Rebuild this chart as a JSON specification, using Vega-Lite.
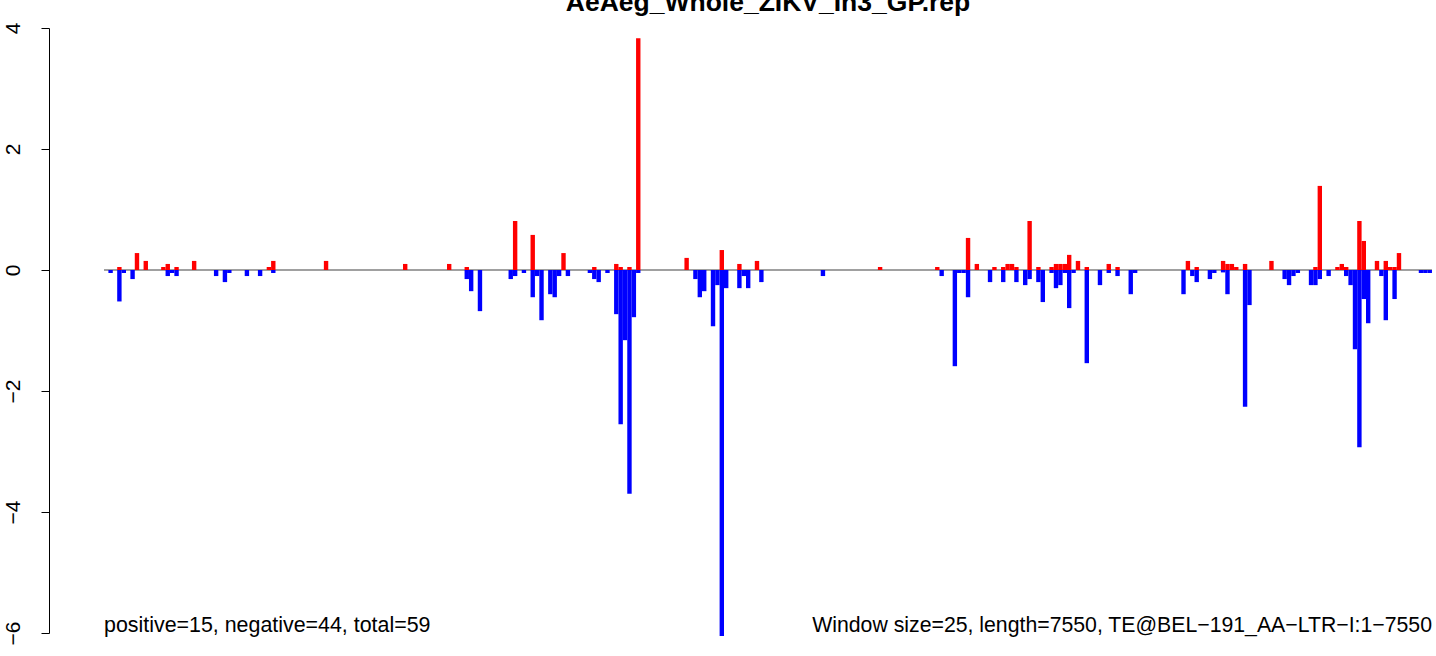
{
  "$schema": "https://vega.github.io/schema/vega-lite/v6.json",
  "width": 1387,
  "height": 605,
  "autosize": {"type": "none"},
  "padding": {"left": 49, "top": 28, "right": 0, "bottom": 23},
  "background": "white",
  "title": {
    "text": "AeAeg_Whole_ZIKV_In3_GP.rep",
    "font": "Liberation Sans",
    "fontSize": 26.5,
    "fontWeight": "bold",
    "color": "black",
    "anchor": "middle",
    "frame": "group",
    "baseline": "alphabetic",
    "offset": 10,
    "dx": 25.5,
    "dy": 25
  },
  "config": {
    "view": {"stroke": null},
    "axis": {
      "labelFont": "Liberation Sans",
      "labelFontSize": 21,
      "labelColor": "black",
      "tickColor": "black",
      "domainColor": "black",
      "grid": false
    }
  },
  "datasets": {
    "bars": [
      {"start": 25, "end": 50, "value": -0.05, "dir": "neg"},
      {"start": 75, "end": 100, "value": 0.05, "dir": "pos"},
      {"start": 75, "end": 100, "value": -0.52, "dir": "neg"},
      {"start": 100, "end": 125, "value": -0.05, "dir": "neg"},
      {"start": 150, "end": 175, "value": -0.15, "dir": "neg"},
      {"start": 175, "end": 200, "value": 0.28, "dir": "pos"},
      {"start": 225, "end": 250, "value": 0.15, "dir": "pos"},
      {"start": 325, "end": 350, "value": 0.05, "dir": "pos"},
      {"start": 350, "end": 375, "value": 0.1, "dir": "pos"},
      {"start": 350, "end": 375, "value": -0.1, "dir": "neg"},
      {"start": 375, "end": 400, "value": -0.05, "dir": "neg"},
      {"start": 400, "end": 425, "value": 0.05, "dir": "pos"},
      {"start": 400, "end": 425, "value": -0.1, "dir": "neg"},
      {"start": 500, "end": 525, "value": 0.15, "dir": "pos"},
      {"start": 625, "end": 650, "value": -0.1, "dir": "neg"},
      {"start": 675, "end": 700, "value": -0.2, "dir": "neg"},
      {"start": 700, "end": 725, "value": -0.05, "dir": "neg"},
      {"start": 800, "end": 825, "value": -0.1, "dir": "neg"},
      {"start": 875, "end": 900, "value": -0.1, "dir": "neg"},
      {"start": 925, "end": 950, "value": 0.05, "dir": "pos"},
      {"start": 950, "end": 975, "value": 0.15, "dir": "pos"},
      {"start": 950, "end": 975, "value": -0.05, "dir": "neg"},
      {"start": 1250, "end": 1275, "value": 0.15, "dir": "pos"},
      {"start": 1700, "end": 1725, "value": 0.1, "dir": "pos"},
      {"start": 1950, "end": 1975, "value": 0.1, "dir": "pos"},
      {"start": 2050, "end": 2075, "value": 0.05, "dir": "pos"},
      {"start": 2050, "end": 2075, "value": -0.15, "dir": "neg"},
      {"start": 2075, "end": 2100, "value": -0.35, "dir": "neg"},
      {"start": 2125, "end": 2150, "value": -0.68, "dir": "neg"},
      {"start": 2300, "end": 2325, "value": -0.15, "dir": "neg"},
      {"start": 2325, "end": 2350, "value": 0.81, "dir": "pos"},
      {"start": 2325, "end": 2350, "value": -0.1, "dir": "neg"},
      {"start": 2375, "end": 2400, "value": -0.05, "dir": "neg"},
      {"start": 2425, "end": 2450, "value": 0.58, "dir": "pos"},
      {"start": 2425, "end": 2450, "value": -0.45, "dir": "neg"},
      {"start": 2450, "end": 2475, "value": -0.1, "dir": "neg"},
      {"start": 2475, "end": 2500, "value": -0.83, "dir": "neg"},
      {"start": 2525, "end": 2550, "value": -0.4, "dir": "neg"},
      {"start": 2550, "end": 2575, "value": -0.45, "dir": "neg"},
      {"start": 2575, "end": 2600, "value": -0.1, "dir": "neg"},
      {"start": 2600, "end": 2625, "value": 0.28, "dir": "pos"},
      {"start": 2625, "end": 2650, "value": -0.1, "dir": "neg"},
      {"start": 2750, "end": 2775, "value": -0.05, "dir": "neg"},
      {"start": 2775, "end": 2800, "value": 0.05, "dir": "pos"},
      {"start": 2775, "end": 2800, "value": -0.15, "dir": "neg"},
      {"start": 2800, "end": 2825, "value": -0.2, "dir": "neg"},
      {"start": 2850, "end": 2875, "value": -0.05, "dir": "neg"},
      {"start": 2900, "end": 2925, "value": 0.1, "dir": "pos"},
      {"start": 2900, "end": 2925, "value": -0.73, "dir": "neg"},
      {"start": 2925, "end": 2950, "value": 0.05, "dir": "pos"},
      {"start": 2925, "end": 2950, "value": -2.55, "dir": "neg"},
      {"start": 2950, "end": 2975, "value": -1.16, "dir": "neg"},
      {"start": 2975, "end": 3000, "value": 0.05, "dir": "pos"},
      {"start": 2975, "end": 3000, "value": -3.7, "dir": "neg"},
      {"start": 3000, "end": 3025, "value": -0.78, "dir": "neg"},
      {"start": 3025, "end": 3050, "value": 3.83, "dir": "pos"},
      {"start": 3025, "end": 3050, "value": -0.05, "dir": "neg"},
      {"start": 3300, "end": 3325, "value": 0.2, "dir": "pos"},
      {"start": 3350, "end": 3375, "value": -0.15, "dir": "neg"},
      {"start": 3375, "end": 3400, "value": -0.45, "dir": "neg"},
      {"start": 3400, "end": 3425, "value": -0.35, "dir": "neg"},
      {"start": 3450, "end": 3475, "value": -0.93, "dir": "neg"},
      {"start": 3475, "end": 3500, "value": -0.25, "dir": "neg"},
      {"start": 3500, "end": 3525, "value": 0.33, "dir": "pos"},
      {"start": 3500, "end": 3525, "value": -6.05, "dir": "neg"},
      {"start": 3525, "end": 3550, "value": -0.3, "dir": "neg"},
      {"start": 3600, "end": 3625, "value": 0.1, "dir": "pos"},
      {"start": 3600, "end": 3625, "value": -0.3, "dir": "neg"},
      {"start": 3625, "end": 3650, "value": -0.1, "dir": "neg"},
      {"start": 3650, "end": 3675, "value": -0.3, "dir": "neg"},
      {"start": 3700, "end": 3725, "value": 0.15, "dir": "pos"},
      {"start": 3725, "end": 3750, "value": -0.2, "dir": "neg"},
      {"start": 4075, "end": 4100, "value": -0.1, "dir": "neg"},
      {"start": 4400, "end": 4425, "value": 0.05, "dir": "pos"},
      {"start": 4725, "end": 4750, "value": 0.05, "dir": "pos"},
      {"start": 4750, "end": 4775, "value": -0.1, "dir": "neg"},
      {"start": 4825, "end": 4850, "value": -1.59, "dir": "neg"},
      {"start": 4850, "end": 4875, "value": -0.05, "dir": "neg"},
      {"start": 4875, "end": 4900, "value": -0.05, "dir": "neg"},
      {"start": 4900, "end": 4925, "value": 0.53, "dir": "pos"},
      {"start": 4900, "end": 4925, "value": -0.45, "dir": "neg"},
      {"start": 4950, "end": 4975, "value": 0.1, "dir": "pos"},
      {"start": 5025, "end": 5050, "value": -0.2, "dir": "neg"},
      {"start": 5050, "end": 5075, "value": 0.05, "dir": "pos"},
      {"start": 5100, "end": 5125, "value": 0.05, "dir": "pos"},
      {"start": 5100, "end": 5125, "value": -0.2, "dir": "neg"},
      {"start": 5125, "end": 5150, "value": 0.1, "dir": "pos"},
      {"start": 5150, "end": 5175, "value": 0.1, "dir": "pos"},
      {"start": 5175, "end": 5200, "value": 0.05, "dir": "pos"},
      {"start": 5175, "end": 5200, "value": -0.2, "dir": "neg"},
      {"start": 5225, "end": 5250, "value": -0.25, "dir": "neg"},
      {"start": 5250, "end": 5275, "value": 0.81, "dir": "pos"},
      {"start": 5250, "end": 5275, "value": -0.15, "dir": "neg"},
      {"start": 5300, "end": 5325, "value": 0.05, "dir": "pos"},
      {"start": 5300, "end": 5325, "value": -0.2, "dir": "neg"},
      {"start": 5325, "end": 5350, "value": -0.53, "dir": "neg"},
      {"start": 5375, "end": 5400, "value": 0.05, "dir": "pos"},
      {"start": 5375, "end": 5400, "value": -0.05, "dir": "neg"},
      {"start": 5400, "end": 5425, "value": 0.1, "dir": "pos"},
      {"start": 5400, "end": 5425, "value": -0.3, "dir": "neg"},
      {"start": 5425, "end": 5450, "value": 0.1, "dir": "pos"},
      {"start": 5425, "end": 5450, "value": -0.25, "dir": "neg"},
      {"start": 5450, "end": 5475, "value": 0.1, "dir": "pos"},
      {"start": 5450, "end": 5475, "value": -0.05, "dir": "neg"},
      {"start": 5475, "end": 5500, "value": 0.25, "dir": "pos"},
      {"start": 5475, "end": 5500, "value": -0.63, "dir": "neg"},
      {"start": 5500, "end": 5525, "value": -0.05, "dir": "neg"},
      {"start": 5525, "end": 5550, "value": 0.15, "dir": "pos"},
      {"start": 5575, "end": 5600, "value": 0.05, "dir": "pos"},
      {"start": 5575, "end": 5600, "value": -1.54, "dir": "neg"},
      {"start": 5650, "end": 5675, "value": -0.25, "dir": "neg"},
      {"start": 5700, "end": 5725, "value": 0.1, "dir": "pos"},
      {"start": 5700, "end": 5725, "value": -0.05, "dir": "neg"},
      {"start": 5750, "end": 5775, "value": 0.05, "dir": "pos"},
      {"start": 5750, "end": 5775, "value": -0.1, "dir": "neg"},
      {"start": 5825, "end": 5850, "value": -0.4, "dir": "neg"},
      {"start": 5850, "end": 5875, "value": -0.05, "dir": "neg"},
      {"start": 6125, "end": 6150, "value": -0.4, "dir": "neg"},
      {"start": 6150, "end": 6175, "value": 0.15, "dir": "pos"},
      {"start": 6175, "end": 6200, "value": -0.1, "dir": "neg"},
      {"start": 6200, "end": 6225, "value": 0.05, "dir": "pos"},
      {"start": 6200, "end": 6225, "value": -0.2, "dir": "neg"},
      {"start": 6275, "end": 6300, "value": -0.15, "dir": "neg"},
      {"start": 6300, "end": 6325, "value": -0.05, "dir": "neg"},
      {"start": 6350, "end": 6375, "value": 0.15, "dir": "pos"},
      {"start": 6350, "end": 6375, "value": -0.04, "dir": "neg"},
      {"start": 6375, "end": 6400, "value": 0.1, "dir": "pos"},
      {"start": 6375, "end": 6400, "value": -0.4, "dir": "neg"},
      {"start": 6400, "end": 6425, "value": 0.1, "dir": "pos"},
      {"start": 6425, "end": 6450, "value": 0.05, "dir": "pos"},
      {"start": 6475, "end": 6500, "value": 0.1, "dir": "pos"},
      {"start": 6475, "end": 6500, "value": -2.26, "dir": "neg"},
      {"start": 6500, "end": 6525, "value": -0.58, "dir": "neg"},
      {"start": 6625, "end": 6650, "value": 0.15, "dir": "pos"},
      {"start": 6700, "end": 6725, "value": -0.15, "dir": "neg"},
      {"start": 6725, "end": 6750, "value": -0.25, "dir": "neg"},
      {"start": 6750, "end": 6775, "value": -0.1, "dir": "neg"},
      {"start": 6775, "end": 6800, "value": -0.05, "dir": "neg"},
      {"start": 6850, "end": 6875, "value": -0.25, "dir": "neg"},
      {"start": 6875, "end": 6900, "value": 0.05, "dir": "pos"},
      {"start": 6875, "end": 6900, "value": -0.25, "dir": "neg"},
      {"start": 6900, "end": 6925, "value": 1.39, "dir": "pos"},
      {"start": 6900, "end": 6925, "value": -0.15, "dir": "neg"},
      {"start": 6950, "end": 6975, "value": -0.1, "dir": "neg"},
      {"start": 7000, "end": 7025, "value": 0.05, "dir": "pos"},
      {"start": 7025, "end": 7050, "value": 0.1, "dir": "pos"},
      {"start": 7050, "end": 7075, "value": 0.05, "dir": "pos"},
      {"start": 7050, "end": 7075, "value": -0.1, "dir": "neg"},
      {"start": 7075, "end": 7100, "value": -0.25, "dir": "neg"},
      {"start": 7100, "end": 7125, "value": -1.31, "dir": "neg"},
      {"start": 7125, "end": 7150, "value": 0.81, "dir": "pos"},
      {"start": 7125, "end": 7150, "value": -2.93, "dir": "neg"},
      {"start": 7150, "end": 7175, "value": 0.48, "dir": "pos"},
      {"start": 7150, "end": 7175, "value": -0.48, "dir": "neg"},
      {"start": 7175, "end": 7200, "value": -0.88, "dir": "neg"},
      {"start": 7225, "end": 7250, "value": 0.15, "dir": "pos"},
      {"start": 7250, "end": 7275, "value": -0.1, "dir": "neg"},
      {"start": 7275, "end": 7300, "value": 0.15, "dir": "pos"},
      {"start": 7275, "end": 7300, "value": -0.83, "dir": "neg"},
      {"start": 7300, "end": 7325, "value": 0.05, "dir": "pos"},
      {"start": 7325, "end": 7350, "value": 0.05, "dir": "pos"},
      {"start": 7325, "end": 7350, "value": -0.48, "dir": "neg"},
      {"start": 7350, "end": 7375, "value": 0.28, "dir": "pos"},
      {"start": 7475, "end": 7500, "value": -0.05, "dir": "neg"},
      {"start": 7500, "end": 7525, "value": -0.05, "dir": "neg"},
      {"start": 7525, "end": 7550, "value": -0.05, "dir": "neg"}
    ]
  },
  "layer": [
    {
      "data": {"values": [{"from": 0, "to": 7550, "level": 0}]},
      "mark": {"type": "rule", "color": "#a0a0a0", "strokeWidth": 2},
      "encoding": {
        "x": {"field": "from", "type": "quantitative", "scale": {"domain": [-312.7, 7573], "nice": false, "zero": false}, "axis": null},
        "x2": {"field": "to"},
        "y": {"field": "level", "type": "quantitative", "scale": {"domain": [-6, 4], "nice": false}, "axis": {"values": [-6, -4, -2, 0, 2, 4], "format": "d", "title": null, "labelAngle": -90, "labelAlign": "center", "labelBaseline": "bottom", "labelPadding": 18, "tickSize": 8, "labelExpr": "replace(datum.label, '-', '\u2212')", "labelFlush": false, "labelOverlap": false}}
      }
    },
    {
      "data": {"name": "bars"},
      "mark": {"type": "bar", "clip": false},
      "encoding": {
        "x": {"field": "start", "type": "quantitative"},
        "x2": {"field": "end"},
        "y": {"field": "value", "type": "quantitative"},
        "y2": {"datum": 0},
        "color": {"field": "dir", "type": "nominal", "scale": {"domain": ["pos", "neg"], "range": ["#ff0000", "#0000ff"]}, "legend": null}
      }
    },
    {
      "data": {"values": [{"pos": 0, "level": -6, "label": "positive=15, negative=44, total=59"}]},
      "mark": {"type": "text", "align": "left", "baseline": "alphabetic", "font": "Liberation Sans", "fontSize": 21.4, "color": "black", "dy": -1},
      "encoding": {
        "x": {"field": "pos", "type": "quantitative"},
        "y": {"field": "level", "type": "quantitative"},
        "text": {"field": "label"}
      }
    },
    {
      "data": {"values": [{"pos": 7550, "level": -6, "label": "Window size=25, length=7550, TE@BEL\u2212191_AA\u2212LTR\u2212I:1\u22127550"}]},
      "mark": {"type": "text", "align": "right", "baseline": "alphabetic", "font": "Liberation Sans", "fontSize": 21.25, "color": "black", "dy": -1},
      "encoding": {
        "x": {"field": "pos", "type": "quantitative"},
        "y": {"field": "level", "type": "quantitative"},
        "text": {"field": "label"}
      }
    }
  ]
}
